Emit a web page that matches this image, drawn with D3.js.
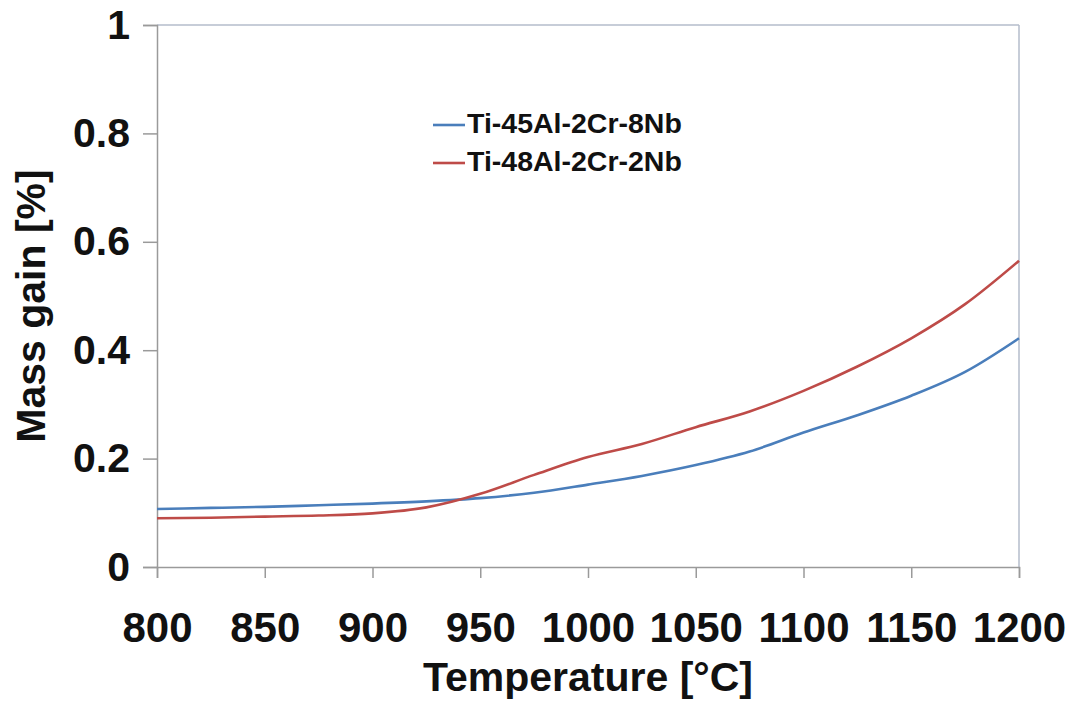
<!DOCTYPE html>
<html>
<head>
<meta charset="utf-8">
<script src="https://cdn.jsdelivr.net/npm/d3@7"></script>
<style>
  html, body { margin: 0; padding: 0; background: #fff; }
  svg { display: block; font-family: "Liberation Sans", Arial, sans-serif; }
</style>
</head>
<body>
<svg id="chart" width="1069" height="702"></svg>
<script>
// Temperature sampling points [°C]
const temperatures = [800, 825, 850, 875, 900, 925, 950, 975, 1000, 1025, 1050, 1075, 1100, 1125, 1150, 1175, 1200];
// Mass gain [%] for each alloy
const massGain45Al = [0.107, 0.109, 0.111, 0.114, 0.117, 0.121, 0.127, 0.137, 0.152, 0.168, 0.188, 0.213, 0.248, 0.280, 0.316, 0.360, 0.422];
const massGain48Al = [0.090, 0.091, 0.093, 0.095, 0.099, 0.110, 0.135, 0.170, 0.203, 0.227, 0.258, 0.287, 0.325, 0.370, 0.422, 0.485, 0.565];
const seriesNames = ["Ti-45Al-2Cr-8Nb", "Ti-48Al-2Cr-2Nb"];
const seriesColors = ["#4a7ebb", "#be4b48"];
const xTicks = [800, 850, 900, 950, 1000, 1050, 1100, 1150, 1200];
const yTicks = [0, 0.2, 0.4, 0.6, 0.8, 1];

const svg = d3.select("#chart");
const plotLeft = 157, plotRight = 1019, plotTop = 25, plotBottom = 567;

const x = d3.scaleLinear().domain([800, 1200]).range([plotLeft, plotRight]);
const y = d3.scaleLinear().domain([0, 1]).range([plotBottom, plotTop]);

// Frame: top and right edges
svg.append("line").attr("x1", plotLeft).attr("x2", plotRight).attr("y1", plotTop).attr("y2", plotTop)
  .attr("stroke", "#b4bccb").attr("stroke-width", 1.5);
svg.append("line").attr("x1", plotRight).attr("x2", plotRight).attr("y1", plotTop).attr("y2", plotBottom)
  .attr("stroke", "#b4bccb").attr("stroke-width", 1.5);

// Y axis
const yAxis = svg.append("g").attr("transform", `translate(${plotLeft},0)`)
  .call(d3.axisLeft(y).tickValues(yTicks).tickSize(14).tickPadding(13)
    .tickFormat(d => d === 0 || d === 1 ? d3.format("d")(d) : d3.format(".1f")(d)));
yAxis.select(".domain").attr("stroke", "#9a9a9a").attr("stroke-width", 1.5);
yAxis.selectAll(".tick line").attr("stroke", "#9a9a9a").attr("stroke-width", 1.5);
yAxis.selectAll(".tick text").attr("fill", "#111").attr("font-size", 41).attr("font-weight", "bold")
  .attr("font-family", "'Liberation Sans', Arial, sans-serif");

// X axis
const xAxis = svg.append("g").attr("transform", `translate(0,${plotBottom})`)
  .call(d3.axisBottom(x).tickValues(xTicks).tickSize(11).tickPadding(64).tickFormat(d3.format("d")));
xAxis.select(".domain").attr("stroke", "#9a9a9a").attr("stroke-width", 1.5);
xAxis.selectAll(".tick line").attr("stroke", "#9a9a9a").attr("stroke-width", 1.5);
xAxis.selectAll(".tick text").attr("fill", "#111").attr("font-size", 42).attr("font-weight", "bold")
  .attr("font-family", "'Liberation Sans', Arial, sans-serif").attr("dy", "0");

// Axis titles
svg.append("text").attr("x", 588).attr("y", 691).attr("text-anchor", "middle")
  .attr("font-size", 41).attr("font-weight", "bold").attr("fill", "#111")
  .text("Temperature [°C]");
svg.append("text").attr("transform", "translate(45,306) rotate(-90)").attr("text-anchor", "middle")
  .attr("font-size", 41).attr("font-weight", "bold").attr("fill", "#111")
  .text("Mass gain [%]");

// Curves
const line = d3.line().x(d => x(d[0])).y(d => y(d[1])).curve(d3.curveMonotoneX);
const series = [massGain45Al, massGain48Al];
series.forEach((vals, i) => {
  svg.append("path")
    .datum(temperatures.map((t, k) => [t, vals[k]]))
    .attr("fill", "none").attr("stroke", seriesColors[i]).attr("stroke-width", 2.6)
    .attr("d", line);
});

// Legend
const legend = svg.append("g");
seriesNames.forEach((name, i) => {
  const ly = 125 + i * 38;
  legend.append("line").attr("x1", 433).attr("x2", 465).attr("y1", ly).attr("y2", ly)
    .attr("stroke", seriesColors[i]).attr("stroke-width", 2.6);
  legend.append("text").attr("x", 467).attr("y", ly + 8)
    .attr("font-size", 28.5).attr("font-weight", "bold").attr("fill", "#111")
    .text(name);
});
</script>
</body>
</html>
